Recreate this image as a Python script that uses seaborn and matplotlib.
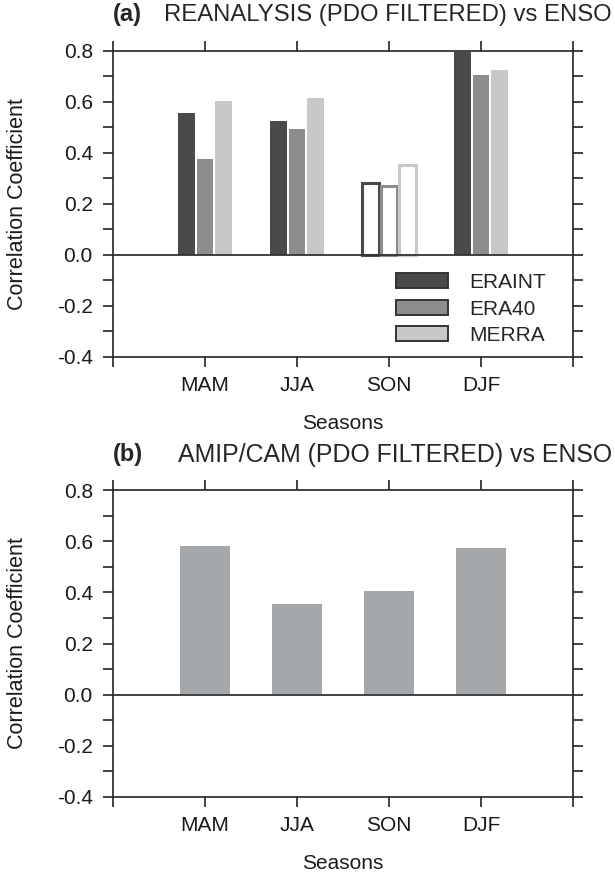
import numpy as np
import pandas as pd
import seaborn as sns
import matplotlib.pyplot as plt
from matplotlib.patches import Patch

# Dados
seasons = ['MAM', 'JJA', 'SON', 'DJF']
reanalyses = ['ERAINT', 'ERA40', 'MERRA']
eraint = [0.556, 0.525, 0.281, 0.797]
era40 = [0.376, 0.495, 0.272, 0.706]
merra = [0.605, 0.614, 0.352, 0.725]
amip_cam = [0.583, 0.355, 0.404, 0.574]
hollow_season = 'SON'  # barras vazadas no painel (a)

cores = ['#4a4a4c', '#8c8d8f', '#c7c8ca']
cor_amip = '#a5a8ab'
cor_eixo = '#222222'

sns.set_style('ticks')
plt.rcParams['font.family'] = ['Liberation Sans', 'DejaVu Sans']
plt.rcParams['axes.unicode_minus'] = False

df = pd.DataFrame({
    'season': seasons * 3,
    'reanalysis': np.repeat(reanalyses, len(seasons)),
    'corr': eraint + era40 + merra,
})


def estilo(ax):
    ax.set_xlim(-1, 4)
    ax.set_ylim(-0.4, 0.8)
    ax.set_xticks(range(-1, 5))
    ax.set_xticklabels([''] + seasons + [''])
    yt = [-0.4, -0.2, 0.0, 0.2, 0.4, 0.6, 0.8]
    ax.set_yticks(yt)
    ax.set_yticklabels([f'{v:.1f}' for v in yt])
    ax.set_yticks([-0.3, -0.1, 0.1, 0.3, 0.5, 0.7], minor=True)
    ax.tick_params(which='both', direction='out', length=7, width=1.2,
                   top=True, right=True, labelsize=15, color=cor_eixo,
                   labelcolor='#1a1a1a')
    ax.tick_params(axis='x', pad=7)
    ax.tick_params(axis='y', pad=7.5)
    for s in ax.spines.values():
        s.set_visible(True)
        s.set_linewidth(1.2)
        s.set_color(cor_eixo)
    ax.axhline(0, color='#333333', lw=1.3, zorder=5)
    ax.set_xlabel('Seasons', fontsize=15, color='#1a1a1a')
    ax.set_ylabel('Correlation Coefficient', fontsize=15.5, color='#1a1a1a')
    # label do x: topo do texto; label do y: borda direita do texto
    ax.xaxis.set_label_coords(0.5, -0.185)
    ax.yaxis.set_label_coords(-0.185, 0.5)


fig = plt.figure(figsize=(6.15, 8.73), dpi=100)

# Painel (a)
ax1 = fig.add_axes([0.1837, 0.5911, 0.748, 0.3505])
sns.barplot(data=df, x='season', y='corr', hue='reanalysis', order=seasons,
            hue_order=reanalyses, palette=cores, width=0.6, gap=0.08,
            saturation=1, linewidth=0, legend=False, ax=ax1)
for cont, cor in zip(ax1.containers, cores):
    barra = cont[seasons.index(hollow_season)]
    barra.set_facecolor('white')
    barra.set_edgecolor(cor)
    barra.set_linewidth(2.2)
estilo(ax1)

handles = [Patch(facecolor=c, edgecolor='#333333', linewidth=1.4) for c in cores]
ax1.legend(handles, reanalyses, loc='upper left', bbox_to_anchor=(0.615, 0.274),
           frameon=False, fontsize=15, handlelength=2.5, handleheight=0.75,
           handletextpad=1.0, labelspacing=0.36, borderpad=0, borderaxespad=0)

fig.text(0.1837, 0.983, '(a)', fontsize=17, weight='bold', va='center')
fig.text(0.995, 0.983, 'REANALYSIS (PDO FILTERED) vs ENSO', fontsize=17.2,
         ha='right', va='center')

# Painel (b)
ax2 = fig.add_axes([0.1837, 0.0871, 0.748, 0.3515])
sns.barplot(x=seasons, y=amip_cam, color=cor_amip, width=0.54,
            saturation=1, linewidth=0, ax=ax2)
estilo(ax2)

fig.text(0.1837, 0.479, '(b)', fontsize=17, weight='bold', va='center')
fig.text(0.995, 0.479, 'AMIP/CAM (PDO FILTERED) vs ENSO', fontsize=17.9,
         ha='right', va='center')

fig.savefig('out.png', dpi=100)
plt.close()
